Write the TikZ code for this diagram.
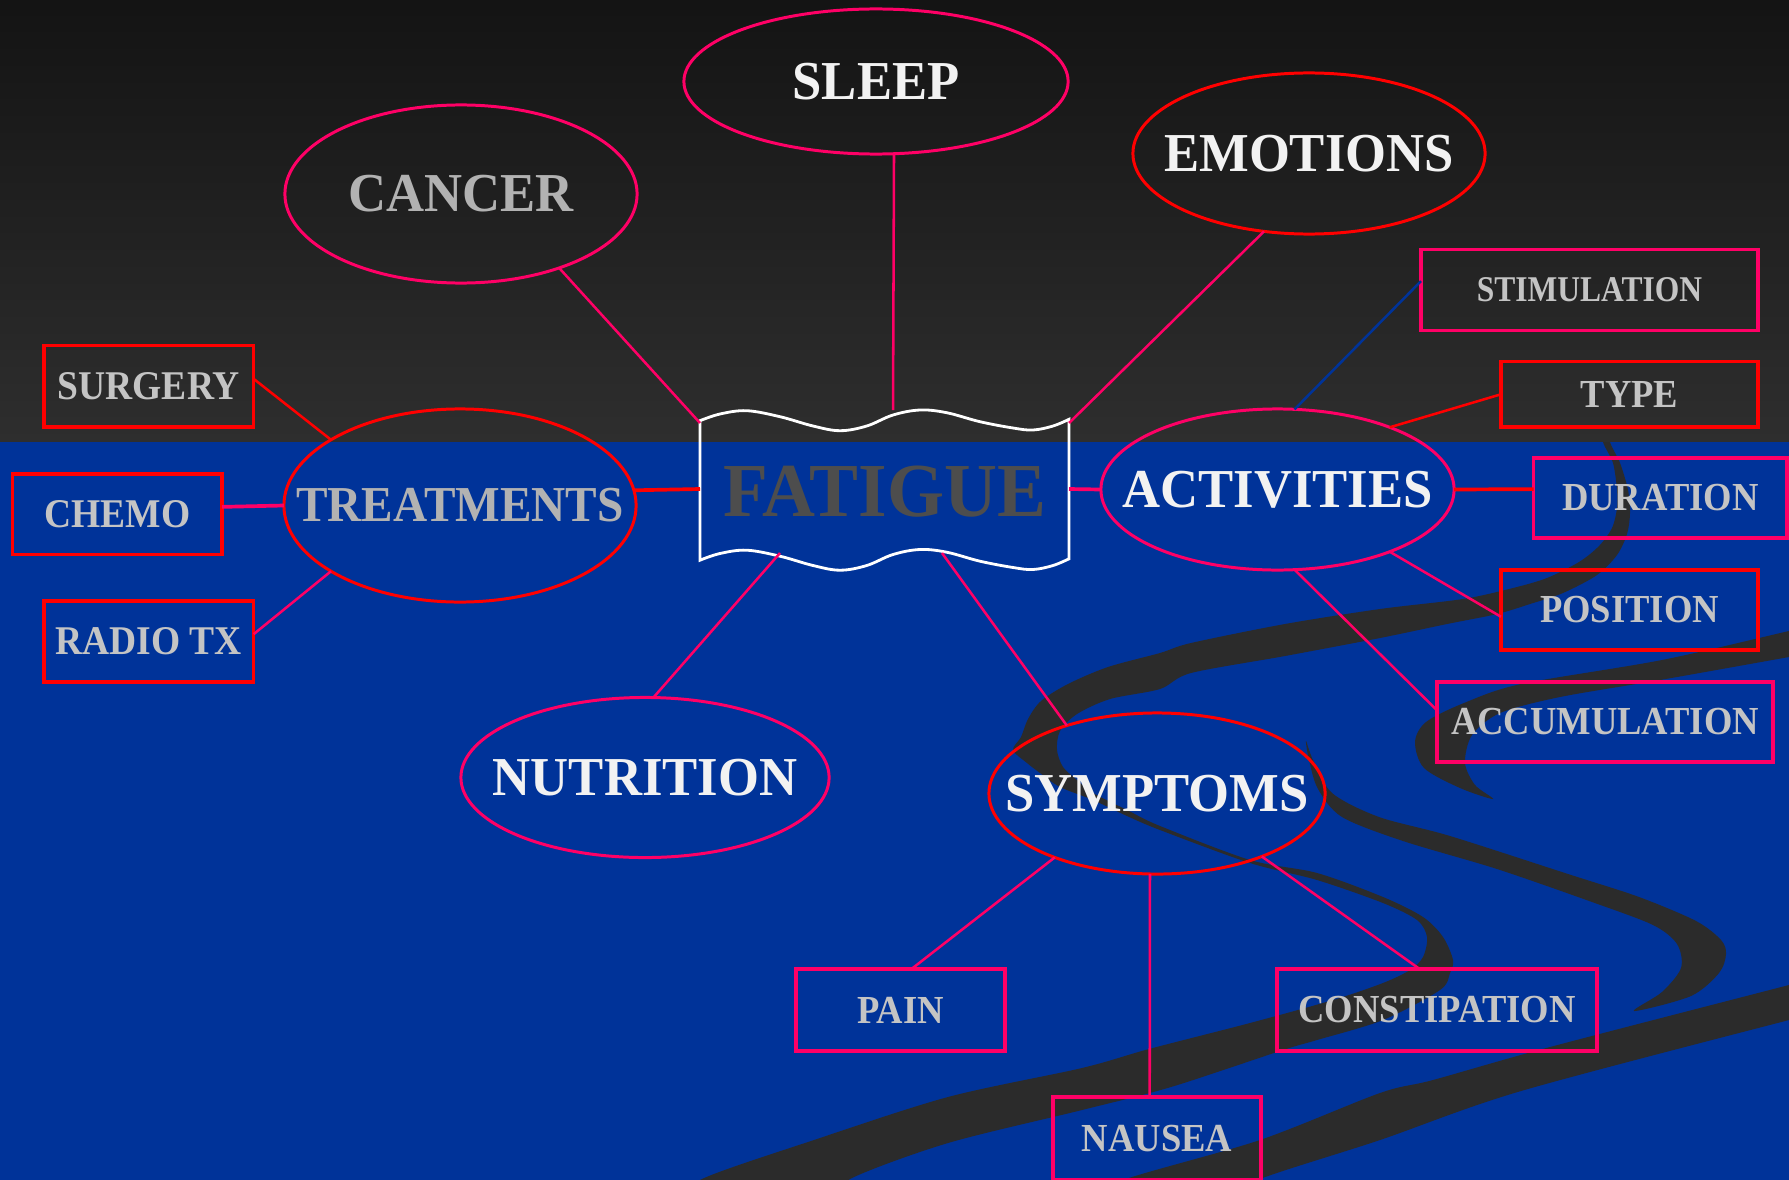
\documentclass[tikz,border=0pt]{standalone}
\usepackage{fontspec}
\setmainfont{Liberation Serif}
\newfontfamily\ellfont{Liberation Serif}[FakeStretch=0.96]
\newfontfamily\midfont{Liberation Serif}[FakeStretch=0.94]
\newfontfamily\fatfont{Liberation Serif}[FakeStretch=0.96]
\newfontfamily\boxfont{Liberation Serif}[FakeStretch=0.92]
\newfontfamily\narfont{Liberation Serif}[FakeStretch=0.87]
\usetikzlibrary{shapes.geometric}
\definecolor{pinkc}{HTML}{FF0066}
\definecolor{redc}{HTML}{FF0000}
\definecolor{bgblue}{HTML}{003399}
\definecolor{swoosh}{HTML}{2B2B2B}
\definecolor{wtxt}{HTML}{F2F2F2}
\definecolor{gtxt}{HTML}{B2B2B2}
\definecolor{boxgray}{HTML}{C4C4C4}
\definecolor{ftxt}{HTML}{4D4D4D}
\definecolor{topc}{HTML}{131313}
\definecolor{midc}{HTML}{262626}
\definecolor{botc}{HTML}{2E2E2E}
\tikzset{
  ell/.style={ellipse, draw=#1, line width=0.85pt, inner sep=0pt, outer sep=0pt},
  ebig/.style={font=\ellfont\bfseries\fontsize{15.6}{18}\selectfont},
  bx/.style={rectangle, draw=#1, line width=0.95pt, inner sep=0pt, outer sep=0pt,
    text=boxgray, font=\boxfont\bfseries\fontsize{11.3}{13}\selectfont},
  bxl/.style={font=\boxfont\bfseries\fontsize{11.6}{13}\selectfont},
  lp/.style={draw=pinkc, line width=0.72pt},
  lr/.style={draw=redc, line width=0.72pt},
  lb/.style={draw=bgblue, line width=0.72pt},
  fat/.style={line width=1.05pt},
}
\begin{document}
\begin{tikzpicture}[x=0.01cm, y=-0.01cm]
\useasboundingbox (0,0) rectangle (1789,1179);
% background
\shade[top color=topc, middle color=midc, bottom color=botc] (-10,-10) rectangle (1800,442);
\fill[bgblue] (-10,442) rectangle (1800,1200);
% swooshes
\begin{scope}
\clip (-10,442) rectangle (1800,1200);
\fill[swoosh] plot[smooth cycle, tension=0.5] coordinates {
 (690,1200) (702,1179) (814,1140) (948,1097) (1082,1068) (1149,1049) (1250,1023)
 (1333,1000) (1383,983) (1410,970) (1423,957) (1427,937) (1417,920) (1383,903)
 (1317,880) (1250,863) (1160,830) (1127,816) (1093,800) (1060,787) (1040,773)
 (1027,763) (1013,750) (1021,737) (1028,719) (1041,701) (1068,684) (1108,667)
 (1160,653) (1191,643) (1285,624) (1380,609) (1463,599) (1513,588) (1547,578)
 (1579,562) (1599,546) (1612,528) (1617,508) (1617,490) (1613,463) (1603,442)
 (1601,420) (1608,420) (1610,442) (1620,463) (1628,490) (1630,513) (1627,534)
 (1617,555) (1597,575) (1563,593) (1530,604) (1497,614) (1447,624) (1380,638)
 (1285,656) (1191,673) (1160,689) (1110,699) (1077,714) (1060,731) (1057,750)
 (1063,767) (1077,780) (1093,793) (1127,810) (1160,826) (1250,860) (1317,873)
 (1383,897) (1423,917) (1443,937) (1453,960) (1450,973) (1440,990) (1383,1020)
 (1317,1040) (1283,1050) (1171,1087) (1082,1110) (948,1143) (850,1179) (840,1200)};
\fill[swoosh] plot[smooth cycle, tension=0.5] coordinates {
 (1306,741) (1313,760) (1332,793) (1379,817) (1450,836) (1568,874) (1639,897)
 (1696,921) (1721,940) (1726,954) (1719,973) (1691,996) (1634,1011)
 (1662,992) (1681,968) (1677,944) (1653,925) (1592,902) (1497,869) (1403,841)
 (1342,817) (1318,789) (1309,760)};
\fill[swoosh] plot[smooth cycle, tension=0.5] coordinates {
 (1800,629) (1789,631) (1662,660) (1521,684) (1464,703) (1426,722) (1415,742)
 (1424,768) (1460,788) (1493,799) (1475,785) (1465,763) (1472,735) (1500,713)
 (1560,697) (1660,680) (1789,657) (1800,655)};
\fill[swoosh] plot[smooth cycle, tension=0.5] coordinates {
 (1090,1200) (1126,1179) (1260,1140) (1380,1093) (1433,1080) (1550,1047)
 (1789,985) (1800,982) (1800,1018) (1789,1020) (1521,1091) (1380,1140)
 (1260,1179) (1230,1200)};
\end{scope}
% banner
\draw[white, line width=0.8pt]
 plot[smooth, tension=0.6] coordinates {(700,420.7) (720,414) (746.7,410.7) (780,416.7)
   (813,426) (840,430.7) (866.7,426) (893,415) (920,410) (946.7,412.7) (980,421.7)
   (1013,428) (1033,430) (1053,426) (1069,419.3)}
 -- plot[smooth, tension=0.6] coordinates {(1069,558.8) (1053,565.5) (1033,569.5)
   (1013,567.5) (980,561.2) (946.7,552.2) (920,549.5) (893,554.5) (866.7,565.5)
   (840,570.2) (813,565.5) (780,556.2) (746.7,550.2) (720,553.5) (700,560.2)}
 -- cycle;
\node[font=\fatfont\bfseries\fontsize{21.7}{24}\selectfont, text=ftxt, inner sep=0pt]
  (fatigue) at (884.5,491.7) {FATIGUE};
\coordinate (fTL) at (700,423);
\coordinate (fTR) at (1069,423);
\coordinate (fT) at (893,410);
\coordinate (fL) at (700,489);
\coordinate (fR) at (1069,489);
\coordinate (fB1) at (780,553);
\coordinate (fB2) at (942,553);
% ellipses
\node[ell=pinkc, minimum width=3.84cm, minimum height=1.45cm, ebig, text=wtxt] (sleep) at (876,81.5) {\makebox[0pt]{SLEEP}};
\node[ell=pinkc, minimum width=3.52cm, minimum height=1.78cm, ebig, text=gtxt] (cancer) at (461,194) {\makebox[0pt]{CANCER}};
\node[ell=redc, minimum width=3.52cm, minimum height=1.61cm, ebig, text=wtxt] (emotions) at (1309,153.5) {\makebox[0pt]{EMOTIONS}};
\node[ell=redc, minimum width=3.52cm, minimum height=1.93cm, text=gtxt, font=\midfont\bfseries\fontsize{14.3}{16}\selectfont] (treat) at (460,505.5) {\makebox[0pt]{TREATMENTS}};
\node[ell=pinkc, minimum width=3.53cm, minimum height=1.61cm, ebig, text=wtxt] (activ) at (1277.5,489.5) {\makebox[0pt]{ACTIVITIES}};
\node[ell=pinkc, minimum width=3.68cm, minimum height=1.60cm, ebig, text=wtxt] (nutri) at (645,777.5) {\makebox[0pt]{NUTRITION}};
\node[ell=redc, minimum width=3.36cm, minimum height=1.61cm, ebig, text=wtxt] (sympt) at (1157,793.5) {\makebox[0pt]{SYMPTOMS}};
% boxes
\node[bx=redc, bxl, minimum width=2.096cm, minimum height=0.815cm] (surgery) at (148.8,386.2) {SURGERY};
\node[bx=redc, bxl, minimum width=2.095cm, minimum height=0.803cm] (chemo) at (117.3,514.2) {CHEMO};
\node[bx=redc, bxl, minimum width=2.096cm, minimum height=0.81cm] (radio) at (148.8,641.5) {RADIO TX};
\node[bx=pinkc, minimum width=3.37cm, minimum height=0.81cm, font=\narfont\bfseries\fontsize{10.3}{12}\selectfont] (stim) at (1589.5,290) {STIMULATION};
\node[bx=redc, minimum width=2.57cm, minimum height=0.655cm] (type) at (1629.5,394.3) {TYPE};
\node[bx=pinkc, minimum width=2.535cm, minimum height=0.80cm] (dur) at (1660.3,498) {DURATION};
\node[bx=redc, minimum width=2.57cm, minimum height=0.80cm] (pos) at (1629.5,610) {POSITION};
\node[bx=pinkc, minimum width=3.36cm, minimum height=0.80cm] (accum) at (1605,722) {ACCUMULATION};
\node[bx=pinkc, minimum width=2.09cm, minimum height=0.82cm] (pain) at (900.5,1010) {PAIN};
\node[bx=pinkc, minimum width=3.20cm, minimum height=0.82cm] (const) at (1437,1010) {CONSTIPATION};
\node[bx=pinkc, minimum width=2.08cm, minimum height=0.83cm] (nausea) at (1157,1138.5) {NAUSEA};
% connectors
\draw[lp] (cancer.-37.3) -- (fTL);
\draw[lp] (sleep.-76.8) -- (fT);
\draw[lp] (emotions.-120.8) -- (fTR);
\draw[lr, fat] (treat.5) -- (fL);
\draw[lp, fat] (fR) -- (activ.180);
\draw[lp] (fB1) -- (nutri.84.3);
\draw[lp] (fB2) -- (sympt.143.6);
\draw[lr] (surgery.4.5) -- (treat.153.1);
\draw[lp, fat] (chemo.4.6) -- (treat.180);
\draw[lp] (radio.4.6) -- (treat.-153.1);
\draw[lb] (stim.177.3) -- (activ.78.3);
\draw[lr] (type.west) -- (activ.29.8);
\draw[lr, fat] (activ.0) -- (dur.176.4);
\draw[lp] (activ.-29.9) -- (pos.183.6);
\draw[lp] (activ.-78.6) -- (accum.176.3);
\draw[lp] (sympt.-148.4) -- (pain.75.6);
\draw[lp] (sympt.-95.7) -- (nausea.100.9);
\draw[lp] (sympt.-31.4) -- (const.113.7);
\end{tikzpicture}
\end{document}
